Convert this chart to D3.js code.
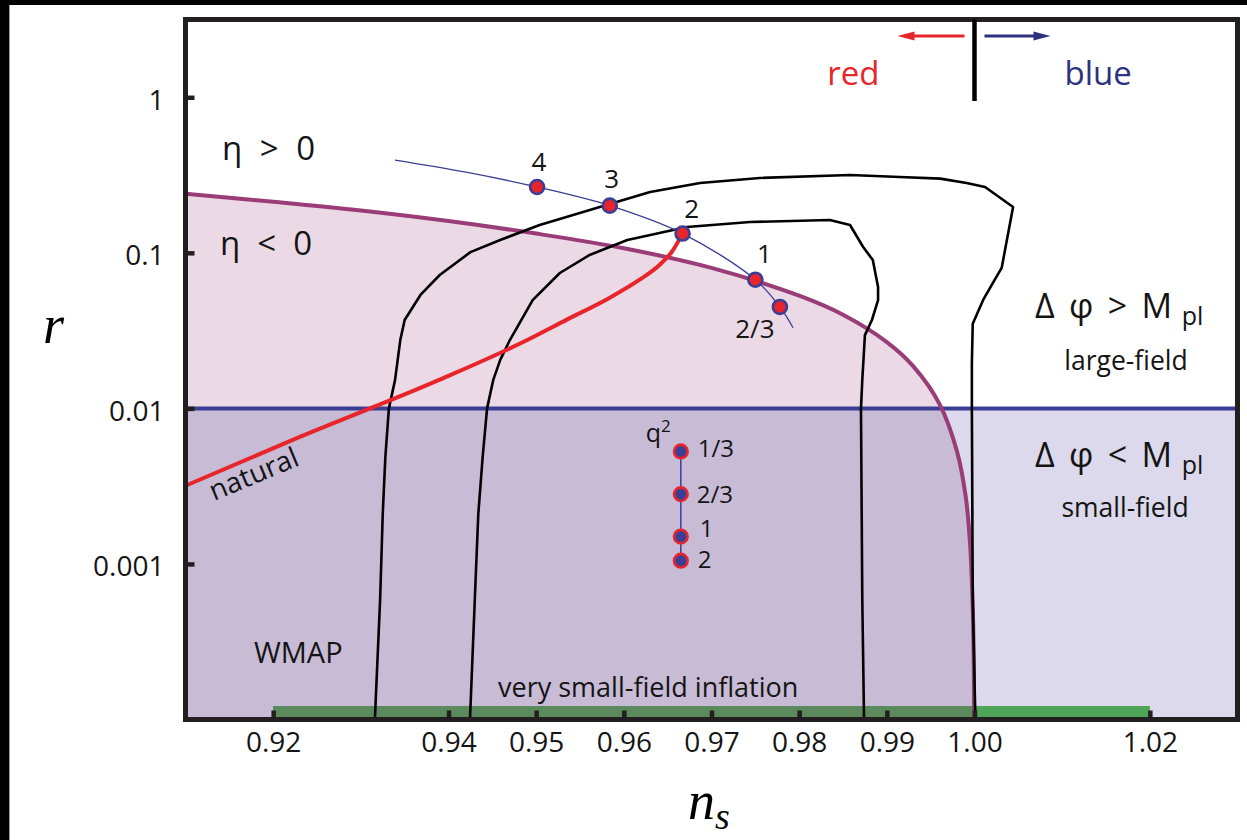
<!DOCTYPE html>
<html>
<head>
<meta charset="utf-8">
<script src="https://cdn.jsdelivr.net/npm/d3@7"></script>
<style>
  html, body { margin: 0; padding: 0; background: #fff; }
  svg { display: block; font-family: "Open Sans", "Noto Sans", sans-serif; }
</style>
</head>
<body>
<svg id="chart" width="1247" height="840"></svg>
<script>
// ---- axis ticks ----
const nsTicks = [0.92, 0.94, 0.95, 0.96, 0.97, 0.98, 0.99, 1.00, 1.02];
const rTicks = [1, 0.1, 0.01, 0.001];
const rTickLabels = ["1", "0.1", "0.01", "0.001"];

// ---- eta = 0 boundary (n_s, r) ----
const etaZeroNs = [0.91, 0.92, 0.93, 0.94, 0.95, 0.96, 0.97, 0.98, 0.985, 0.99, 0.993, 0.996, 0.998, 0.999, 0.9995, 0.9998, 0.9999, 0.99996];
const etaZeroR  = [0.24, 0.213, 0.187, 0.16, 0.133, 0.107, 0.08, 0.053, 0.04, 0.0267, 0.0187, 0.0107, 0.0053, 0.0027, 0.00133, 0.00053, 0.00027, 0.0001];

// ---- field-range divide ----
const fieldDivideR = 0.01;

// ---- very small-field inflation band ----
const smallFieldBand = [0.92, 1.02];

// ---- WMAP confidence contours [n_s, r] ----
const wmapOuter = [
  [0.9316, 0.0001], [0.9322, 0.00059], [0.9325, 0.0021], [0.9328, 0.0049], [0.9332, 0.01],
  [0.9339, 0.0152], [0.9345, 0.0275], [0.9350, 0.037], [0.9368, 0.0536], [0.9390, 0.072],
  [0.9425, 0.101], [0.9459, 0.121], [0.9504, 0.151], [0.9584, 0.206], [0.9630, 0.246],
  [0.9687, 0.281], [0.9755, 0.303], [0.9858, 0.3165], [0.9915, 0.307], [0.9961, 0.30],
  [0.9991, 0.281], [1.0012, 0.265], [1.0044, 0.197], [1.0031, 0.080], [1.0023, 0.067],
  [1.0010, 0.050], [0.9998, 0.035], [0.9997, 0.0196], [0.9997, 0.01], [0.9998, 0.0006],
  [1.0001, 0.0001]
];
const wmapInner = [
  [0.94245, 0.0001], [0.9430, 0.00059], [0.9434, 0.0021], [0.9439, 0.0049], [0.9444, 0.01],
  [0.9451, 0.0152], [0.9459, 0.0205], [0.9470, 0.0275], [0.9496, 0.0497], [0.9527, 0.0742],
  [0.9561, 0.0969], [0.9604, 0.1209], [0.9672, 0.1466], [0.9744, 0.1579], [0.9835, 0.1626],
  [0.9858, 0.151], [0.9873, 0.109], [0.9884, 0.0899], [0.9890, 0.0603], [0.9890, 0.0497],
  [0.9883, 0.037], [0.9875, 0.0296], [0.9872, 0.0152], [0.98705, 0.01], [0.9872, 0.00059],
  [0.9874, 0.0001]
];

// ---- natural inflation track ----
const naturalNs = [0.91, 0.9231, 0.9390, 0.9491, 0.9535, 0.9584, 0.9618, 0.9640, 0.9655, 0.9667];
const naturalR  = [0.00318, 0.00658, 0.0153, 0.0277, 0.0372, 0.0515, 0.0672, 0.083, 0.102, 0.133];

// ---- monomial potentials phi^p ----
const monoCurveNs = [0.9339, 0.9420, 0.9501, 0.9584, 0.9667, 0.9750, 0.9778, 0.9793];
const monoCurveR  = [0.395, 0.33, 0.265, 0.201, 0.133, 0.0672, 0.0449, 0.033];
const monoLabels = ["4", "3", "2", "1", "2/3"];
const monoNs = [0.9501, 0.9584, 0.9667, 0.9750, 0.9778];
const monoR  = [0.265, 0.201, 0.133, 0.0672, 0.0449];

// ---- small-field q^2 models ----
const hillLabels = ["1/3", "2/3", "1", "2"];
const hillNs = [0.9665, 0.9665, 0.9665, 0.9665];
const hillR  = [0.00529, 0.00281, 0.00150, 0.00105];

// ================= drawing =================
const svg = d3.select("#chart");
const x = d3.scaleLinear().domain([0.91, 1.03]).range([185.5, 1237.5]);
const y = d3.scaleLog().domain([1e-4, Math.sqrt(10)]).range([719.5, 19.5]);
const [x0, x1] = x.range();
const [yB, yT] = y.range();

const COL = {
  pink: "#ebd9e5", lav: "#c8bbd6", lavLight: "#dbd9eb",
  purple: "#9a3c78", blue: "#3c3e96", red: "#e8252a",
  greenLight: "#4ea457", greenDark: "#5b8b5c", frame: "#231f20", ink: "#141414"
};

// page edges
svg.append("rect").attr("x", 0).attr("y", 0).attr("width", 1247).attr("height", 840).attr("fill", "#fff");
svg.append("rect").attr("x", 0).attr("y", 0).attr("width", 9).attr("height", 840).attr("fill", "#000");
svg.append("rect").attr("x", 0).attr("y", 0).attr("width", 1247).attr("height", 5).attr("fill", "#000");
svg.append("line").attr("x1", 9.5).attr("x2", 9.5).attr("y1", 5).attr("y2", 840).attr("stroke", "#9a9a9a").attr("stroke-width", 1);

const defs = svg.append("defs");
const boundary = etaZeroNs.map((d, i) => [d, etaZeroR[i]]);
const areaGen = d3.area().x(d => x(d[0])).y0(yB).y1(d => y(d[1])).curve(d3.curveCatmullRom.alpha(0.5));
const lineGen = d3.line().x(d => x(d[0])).y(d => y(d[1]));

defs.append("clipPath").attr("id", "above").append("rect")
  .attr("x", x0).attr("y", yT).attr("width", x1 - x0).attr("height", y(fieldDivideR) - yT);
defs.append("clipPath").attr("id", "below").append("rect")
  .attr("x", x0).attr("y", y(fieldDivideR)).attr("width", x1 - x0).attr("height", yB - y(fieldDivideR));
defs.append("clipPath").attr("id", "wmapRegion").append("path").attr("d", areaGen(boundary));

// background regions
svg.append("rect").attr("x", x0).attr("y", y(fieldDivideR)).attr("width", x1 - x0)
  .attr("height", yB - y(fieldDivideR)).attr("fill", COL.lavLight);
svg.append("path").attr("d", areaGen(boundary)).attr("fill", COL.pink).attr("clip-path", "url(#above)");
svg.append("path").attr("d", areaGen(boundary)).attr("fill", COL.lav).attr("clip-path", "url(#below)");

// very small-field band
const bandTop = yB - 13.5;
svg.append("rect").attr("x", x(smallFieldBand[0])).attr("y", bandTop)
  .attr("width", x(smallFieldBand[1]) - x(smallFieldBand[0])).attr("height", yB - bandTop)
  .attr("fill", COL.greenLight);
svg.append("rect").attr("x", x(smallFieldBand[0])).attr("y", bandTop)
  .attr("width", x(smallFieldBand[1]) - x(smallFieldBand[0])).attr("height", yB - bandTop)
  .attr("fill", COL.greenDark).attr("clip-path", "url(#wmapRegion)");

// r = 0.01 divide
svg.append("line").attr("x1", x0).attr("x2", x1).attr("y1", y(fieldDivideR)).attr("y2", y(fieldDivideR))
  .attr("stroke", COL.blue).attr("stroke-width", 4);

// eta = 0 boundary
svg.append("path").datum(boundary)
  .attr("d", lineGen.curve(d3.curveCatmullRom.alpha(0.5)))
  .attr("fill", "none").attr("stroke", COL.purple).attr("stroke-width", 4);

// WMAP contours
[wmapOuter, wmapInner].forEach(c => {
  svg.append("path").datum(c).attr("d", d3.line().x(d => x(d[0])).y(d => y(d[1])))
    .attr("fill", "none").attr("stroke", "#000").attr("stroke-width", 2.6).attr("stroke-linejoin", "round");
});

// natural inflation
svg.append("path").datum(naturalNs.map((d, i) => [d, naturalR[i]]))
  .attr("d", d3.line().x(d => x(d[0])).y(d => y(d[1])).curve(d3.curveMonotoneX))
  .attr("fill", "none").attr("stroke", COL.red).attr("stroke-width", 4);

// monomial track
svg.append("path").datum(monoCurveNs.map((d, i) => [d, monoCurveR[i]]))
  .attr("d", d3.line().x(d => x(d[0])).y(d => y(d[1])).curve(d3.curveCatmullRom.alpha(0.5)))
  .attr("fill", "none").attr("stroke", COL.blue).attr("stroke-width", 1.3);

// q^2 track
svg.append("path").datum(hillNs.map((d, i) => [d, hillR[i]]))
  .attr("d", d3.line().x(d => x(d[0])).y(d => y(d[1])))
  .attr("fill", "none").attr("stroke", COL.blue).attr("stroke-width", 1.5);

// model points
svg.append("g").selectAll("circle").data(monoNs.map((d, i) => [d, monoR[i]])).join("circle")
  .attr("cx", d => x(d[0])).attr("cy", d => y(d[1])).attr("r", 7)
  .attr("fill", COL.red).attr("stroke", COL.blue).attr("stroke-width", 2.6);
svg.append("g").selectAll("circle").data(hillNs.map((d, i) => [d, hillR[i]])).join("circle")
  .attr("cx", d => x(d[0])).attr("cy", d => y(d[1])).attr("r", 6.8)
  .attr("fill", COL.blue).attr("stroke", COL.red).attr("stroke-width", 2.6);

// point labels
const monoLabelOffset = [[2, -16], [2, -18], [9, -16], [9, -17], [-25, 31]];
svg.append("g").attr("font-size", 26).attr("fill", COL.ink).attr("text-anchor", "middle")
  .selectAll("text").data(monoLabels).join("text")
  .attr("x", (d, i) => x(monoNs[i]) + monoLabelOffset[i][0])
  .attr("y", (d, i) => y(monoR[i]) + monoLabelOffset[i][1])
  .text(d => d);
const hillLabelOffset = [[17, 6], [16, 9], [19, 0], [17, 7]];
svg.append("g").attr("font-size", 24).attr("fill", COL.ink)
  .selectAll("text").data(hillLabels).join("text")
  .attr("x", (d, i) => x(hillNs[i]) + hillLabelOffset[i][0])
  .attr("y", (d, i) => y(hillR[i]) + hillLabelOffset[i][1])
  .text(d => d);
const q2 = svg.append("text").attr("x", x(hillNs[0]) - 35).attr("y", y(hillR[0]) - 9)
  .attr("font-size", 25).attr("fill", COL.ink);
q2.append("tspan").text("q");
q2.append("tspan").attr("font-size", 17).attr("dy", -10).text("2");

// frame
svg.append("rect").attr("x", x0).attr("y", yT).attr("width", x1 - x0).attr("height", yB - yT)
  .attr("fill", "none").attr("stroke", COL.frame).attr("stroke-width", 5);

// axes
const gx = svg.append("g").attr("transform", `translate(0,${yB})`)
  .call(d3.axisBottom(x).tickValues(nsTicks).tickFormat(d3.format(".2f")).tickSize(-9).tickPadding(13));
const gy = svg.append("g").attr("transform", `translate(${x0},0)`)
  .call(d3.axisLeft(y).tickValues(rTicks).tickFormat((d, i) => rTickLabels[i]).tickSize(-9).tickPadding(21));
[gx, gy].forEach(g => {
  g.select(".domain").remove();
  g.attr("font-family", "Open Sans, Noto Sans, sans-serif").attr("font-size", 28);
  g.selectAll(".tick line").attr("stroke", COL.frame).attr("stroke-width", 4.5);
  g.selectAll(".tick text").attr("fill", COL.ink);
});
gy.selectAll(".tick text").attr("dy", "0.42em");

// axis titles
svg.append("text").attr("x", 43).attr("y", 343)
  .attr("font-family", "Liberation Serif, DejaVu Serif, serif").attr("font-style", "italic")
  .attr("font-size", 54).attr("fill", "#000").text("r");
const nsTitle = svg.append("text").attr("x", 688).attr("y", 819)
  .attr("font-family", "Liberation Serif, DejaVu Serif, serif").attr("font-style", "italic")
  .attr("font-size", 54).attr("fill", "#000");
nsTitle.append("tspan").text("n");
nsTitle.append("tspan").attr("font-size", 38).attr("dy", 10).text("s");

// red / blue tilt marker
const xOne = x(1.00);
svg.append("line").attr("x1", xOne).attr("x2", xOne).attr("y1", yT).attr("y2", 101)
  .attr("stroke", "#000").attr("stroke-width", 4.5);
function arrow(xa, xb, col) {
  const dir = Math.sign(xb - xa);
  svg.append("line").attr("x1", xa).attr("x2", xb - dir * 14).attr("y1", 36).attr("y2", 36)
    .attr("stroke", col).attr("stroke-width", 3);
  svg.append("path").attr("d", `M${xb},36 L${xb - dir * 17},31.5 L${xb - dir * 17},40.5 Z`).attr("fill", col);
}
arrow(xOne - 10, xOne - 77, COL.red);
arrow(xOne + 10, xOne + 76, "#2e3180");
svg.append("text").attr("x", xOne - 95).attr("y", 85).attr("text-anchor", "end")
  .attr("font-size", 33).attr("fill", COL.red).text("red");
svg.append("text").attr("x", xOne + 90).attr("y", 85)
  .attr("font-size", 33).attr("fill", "#2e3180").text("blue");

// region annotations
const ann = svg.append("g").attr("fill", COL.ink).style("white-space", "pre");
ann.append("text").attr("x", 222).attr("y", 160).attr("font-size", 33)
  .attr("textLength", 93).attr("lengthAdjust", "spacing").text("η >  0");
ann.append("text").attr("x", 220).attr("y", 255).attr("font-size", 33)
  .attr("textLength", 92).attr("lengthAdjust", "spacing").text("η <  0");
function fieldLabel(yb, sym) {
  const t = ann.append("text").attr("x", 1035).attr("y", yb).attr("font-size", 34);
  t.append("tspan").attr("textLength", 137).attr("lengthAdjust", "spacing").text(`Δ φ ${sym}  M`);
  t.append("tspan").attr("dx", 7).attr("dy", 7).attr("font-size", 25).text("pl");
}
fieldLabel(318, ">");
fieldLabel(467, "<");
ann.append("text").attr("x", 1126).attr("y", 370).attr("font-size", 26.5).attr("text-anchor", "middle").text("large-field");
ann.append("text").attr("x", 1125).attr("y", 517).attr("font-size", 26.5).attr("text-anchor", "middle").text("small-field");
ann.append("text").attr("x", 254).attr("y", 663).attr("font-size", 29).text("WMAP");
ann.append("text").attr("x", 498).attr("y", 697).attr("font-size", 27).text("very small-field inflation");
ann.append("text").attr("transform", "translate(214,501) rotate(-22.6)").attr("font-size", 28).text("natural");
</script>
</body>
</html>
